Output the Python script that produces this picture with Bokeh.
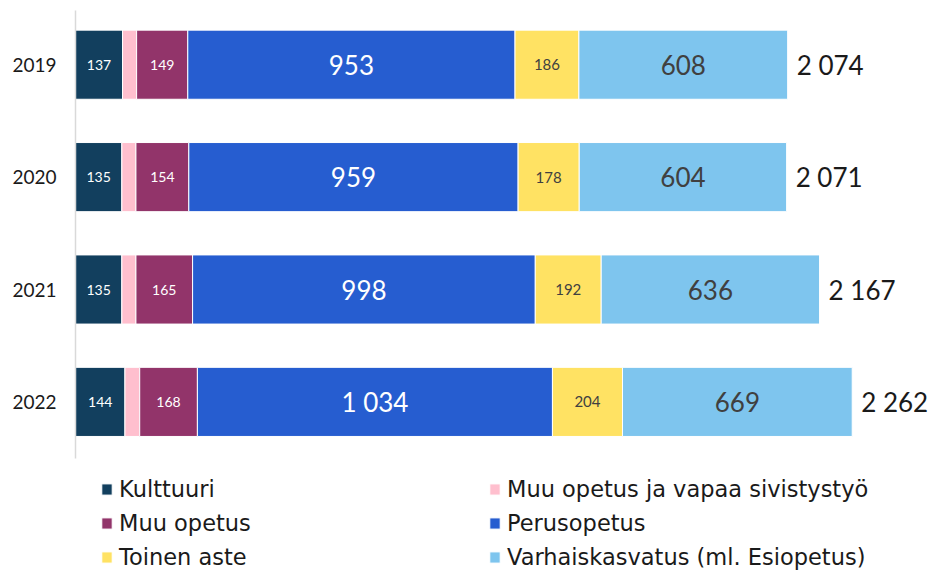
from bokeh.plotting import figure
from bokeh.models import ColumnDataSource, FactorRange, Range1d, LabelSet, Legend, LegendItem
from bokeh.core.properties import value
from bokeh.embed import file_html
from bokeh.resources import INLINE

years = ["2019", "2020", "2021", "2022"]
series_names = ["Kulttuuri", "Muu opetus ja vapaa sivistystyö", "Muu opetus",
                "Perusopetus", "Toinen aste", "Varhaiskasvatus (ml. Esiopetus)"]
kulttuuri = [137, 135, 135, 144]
muu_vapaa = [41, 41, 41, 43]
muu_opetus = [149, 154, 165, 168]
perusopetus = [953, 959, 998, 1034]
toinen_aste = [186, 178, 192, 204]
varhaiskasvatus = [608, 604, 636, 669]
totals = [2074, 2071, 2167, 2262]

colors = ["#123F5E", "#FFBFCE", "#92346A", "#265DD0", "#FFE263", "#7EC5EE"]
keys = ["k", "mv", "mo", "p", "t", "v"]
series = [kulttuuri, muu_vapaa, muu_opetus, perusopetus, toinen_aste, varhaiskasvatus]

data = {"year": years}
for k, s in zip(keys, series):
    data[k] = s
source = ColumnDataSource(data)

# an empty slot below the bars holds the legend
factors = [" "] + years[::-1]

p = figure(width=930, height=570, output_backend="svg", toolbar_location=None,
           y_range=FactorRange(factors=factors), x_range=Range1d(0, 2490),
           min_border_left=75, min_border_right=0, min_border_top=8, min_border_bottom=0)
p.outline_line_color = None
p.xgrid.visible = False
p.ygrid.visible = False
p.xaxis.visible = False

renderers = p.hbar_stack(keys, y="year", height=0.615, color=colors, source=source,
                         line_color="white", line_width=1)

yax = p.yaxis[0]
yax.bounds = (1, 4.98)
yax.axis_line_color = "#D9D9D9"
yax.axis_line_width = 1.5
yax.major_tick_line_color = None
yax.minor_tick_line_color = None
yax.major_tick_out = 0
yax.major_tick_in = 0
yax.major_label_standoff = 19
yax.major_label_text_font = "Lato"
yax.major_label_text_font_size = "19px"
yax.major_label_text_color = "#1a1a1a"

# segment labels
label_styles = {
    "k": ("white", "14px"),
    "mo": ("white", "14px"),
    "p": ("white", "26px"),
    "t": ("#404040", "15px"),
    "v": ("#404040", "26px"),
}
cum = [0] * len(years)
for k, s in zip(keys, series):
    mids = [c + v / 2 for c, v in zip(cum, s)]
    cum = [c + v for c, v in zip(cum, s)]
    if k not in label_styles:
        continue
    col, size = label_styles[k]
    txt = [f"{v:,}".replace(",", " ") for v in s]
    ls = ColumnDataSource(dict(x=mids, y=years, t=txt))
    p.add_layout(LabelSet(x="x", y="y", text="t", source=ls, text_align="center",
                          text_baseline="middle", text_color=col, text_font_size=size,
                          text_font=value("Lato")))

tsrc = ColumnDataSource(dict(x=totals, y=years, t=[f"{v:,}".replace(",", " ") for v in totals]))
p.add_layout(LabelSet(x="x", y="y", text="t", source=tsrc, x_offset=9, text_align="left",
                      text_baseline="middle", text_color="#1a1a1a", text_font_size="26px",
                      text_font=value("Lato")))

def make_legend(idx, loc):
    items = [LegendItem(label=series_names[i], renderers=[renderers[i]]) for i in idx]
    return Legend(items=items, orientation="vertical", location=loc,
                  margin=0, padding=0, spacing=8, glyph_width=13, glyph_height=14,
                  label_standoff=6, label_text_font="DejaVu Sans",
                  label_text_font_size="22.5px", label_text_color="#1a1a1a",
                  border_line_color=None, background_fill_alpha=0)

p.add_layout(make_legend([0, 2, 4], (25, 0)))
p.add_layout(make_legend([1, 3, 5], (413, 0)))

open("out.html", "w").write(file_html(p, INLINE))
